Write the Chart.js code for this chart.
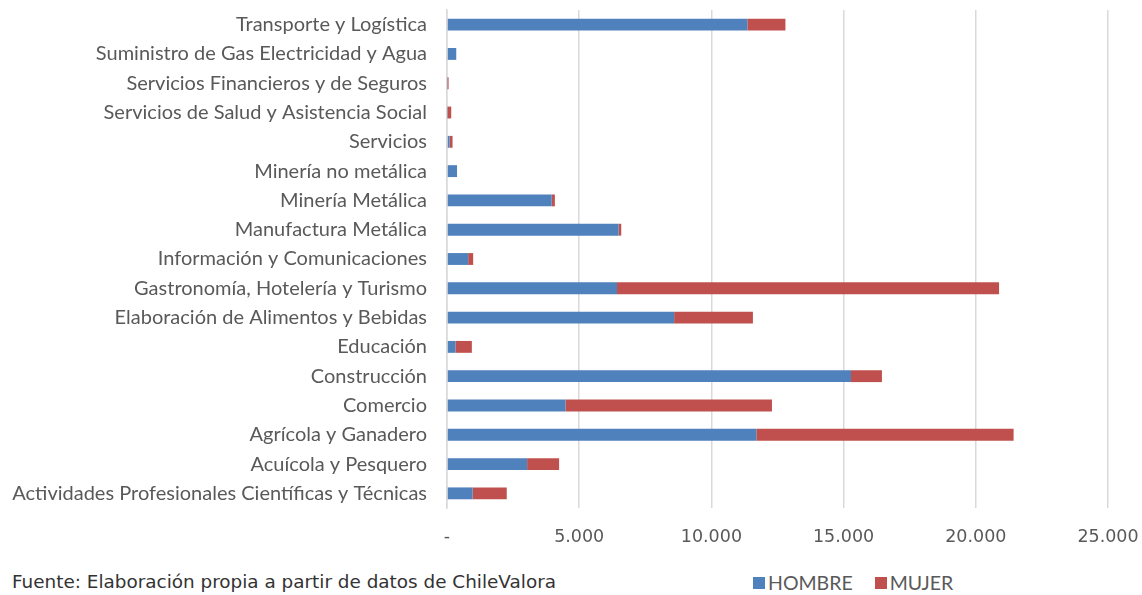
<!DOCTYPE html>
<html>
<head>
<meta charset="utf-8">
<script src="https://cdn.jsdelivr.net/npm/chart.js@4/dist/chart.umd.min.js"></script>
<style>
    body { margin: 0; background: #fff; }
    #wrap { position: relative; width: 1142px; height: 595px; }
    #chartBox { position: absolute; left: 0; top: 0; width: 1142px; height: 560px; }
    #source { position: absolute; left: 12px; top: 571px; font-family: "DejaVu Sans", sans-serif; font-size: 18.4px; color: #333; white-space: nowrap; }
    #legend { position: absolute; left: 753px; top: 571px; font-family: Lato, sans-serif; font-size: 19.5px; color: #595959; display: flex; align-items: center; }
    #legend span.box { display: inline-block; width: 12px; height: 12px; margin-right: 3px; }
    #legend span.item { display: inline-flex; align-items: center; margin-right: 22px; }
</style>
</head>
<body>
<div id="wrap">
    <div id="chartBox"><canvas id="sectorChart"></canvas></div>
    <div id="source">Fuente: Elaboración propia a partir de datos de ChileValora</div>
    <div id="legend"></div>
</div>
<script>
const categories = [
    'Transporte y Logística',
    'Suministro de Gas Electricidad y Agua',
    'Servicios Financieros y de Seguros',
    'Servicios de Salud y Asistencia Social',
    'Servicios',
    'Minería no metálica',
    'Minería Metálica',
    'Manufactura Metálica',
    'Información y Comunicaciones',
    'Gastronomía, Hotelería y Turismo',
    'Elaboración de Alimentos y Bebidas',
    'Educación',
    'Construcción',
    'Comercio',
    'Agrícola y Ganadero',
    'Acuícola y Pesquero',
    'Actividades Profesionales Científicas y Técnicas'
];
const hombre = [11360, 350, 20, 20, 100, 380, 3960, 6490, 800, 6430, 8590, 320, 15280, 4480, 11700, 3030, 970];
const mujer = [1440, 0, 40, 140, 110, 0, 120, 100, 190, 14450, 2980, 620, 1170, 7810, 9730, 1210, 1290];
const xTickLabels = ['-', '5.000', '10.000', '15.000', '20.000', '25.000'];

const seriesNames = ['HOMBRE', 'MUJER'];
const seriesColors = ['#4F81BD', '#C0504D'];

document.addEventListener('DOMContentLoaded', () => {
    const ctx = document.getElementById('sectorChart').getContext('2d');
    new Chart(ctx, {
        type: 'bar',
        data: {
            labels: categories,
            datasets: [hombre, mujer].map((values, i) => ({
                label: seriesNames[i],
                data: values,
                backgroundColor: seriesColors[i],
                borderWidth: 0,
                categoryPercentage: 0.45,
                barPercentage: 0.9
            }))
        },
        options: {
            indexAxis: 'y',
            responsive: true,
            maintainAspectRatio: false,
            animation: false,
            layout: { padding: { top: 10, right: 34, left: 0, bottom: 0 } },
            plugins: {
                legend: { display: false },
                tooltip: { enabled: false }
            },
            scales: {
                x: {
                    stacked: true,
                    min: 0,
                    max: 25000,
                    ticks: {
                        stepSize: 5000,
                        padding: 19,
                        color: '#595959',
                        font: { family: 'DejaVu Sans', size: 17.5 },
                        callback: (value, index) => xTickLabels[index]
                    },
                    grid: { color: '#d9d9d9', lineWidth: 1.5, drawTicks: false },
                    border: { display: false },
                    afterFit: scale => {
                        scale.height = 52;
                        scale.paddingLeft = 0;
                        scale.paddingRight = 0;
                    }
                },
                y: {
                    stacked: true,
                    ticks: {
                        padding: 20,
                        color: '#595959',
                        font: { family: 'Lato', size: 20 },
                        autoSkip: false
                    },
                    grid: { display: false, drawTicks: false },
                    border: { display: true, color: '#d9d9d9', width: 1.5 },
                    afterFit: scale => {
                        scale.width = 447;
                        scale.paddingTop = 0;
                        scale.paddingBottom = 0;
                    }
                }
            }
        }
    });

    const legend = document.getElementById('legend');
    seriesNames.forEach((name, i) => {
        const item = document.createElement('span');
        item.className = 'item';
        item.innerHTML = `<span class="box" style="background:${seriesColors[i]}"></span>${name}`;
        legend.appendChild(item);
    });
});
</script>
</body>
</html>
